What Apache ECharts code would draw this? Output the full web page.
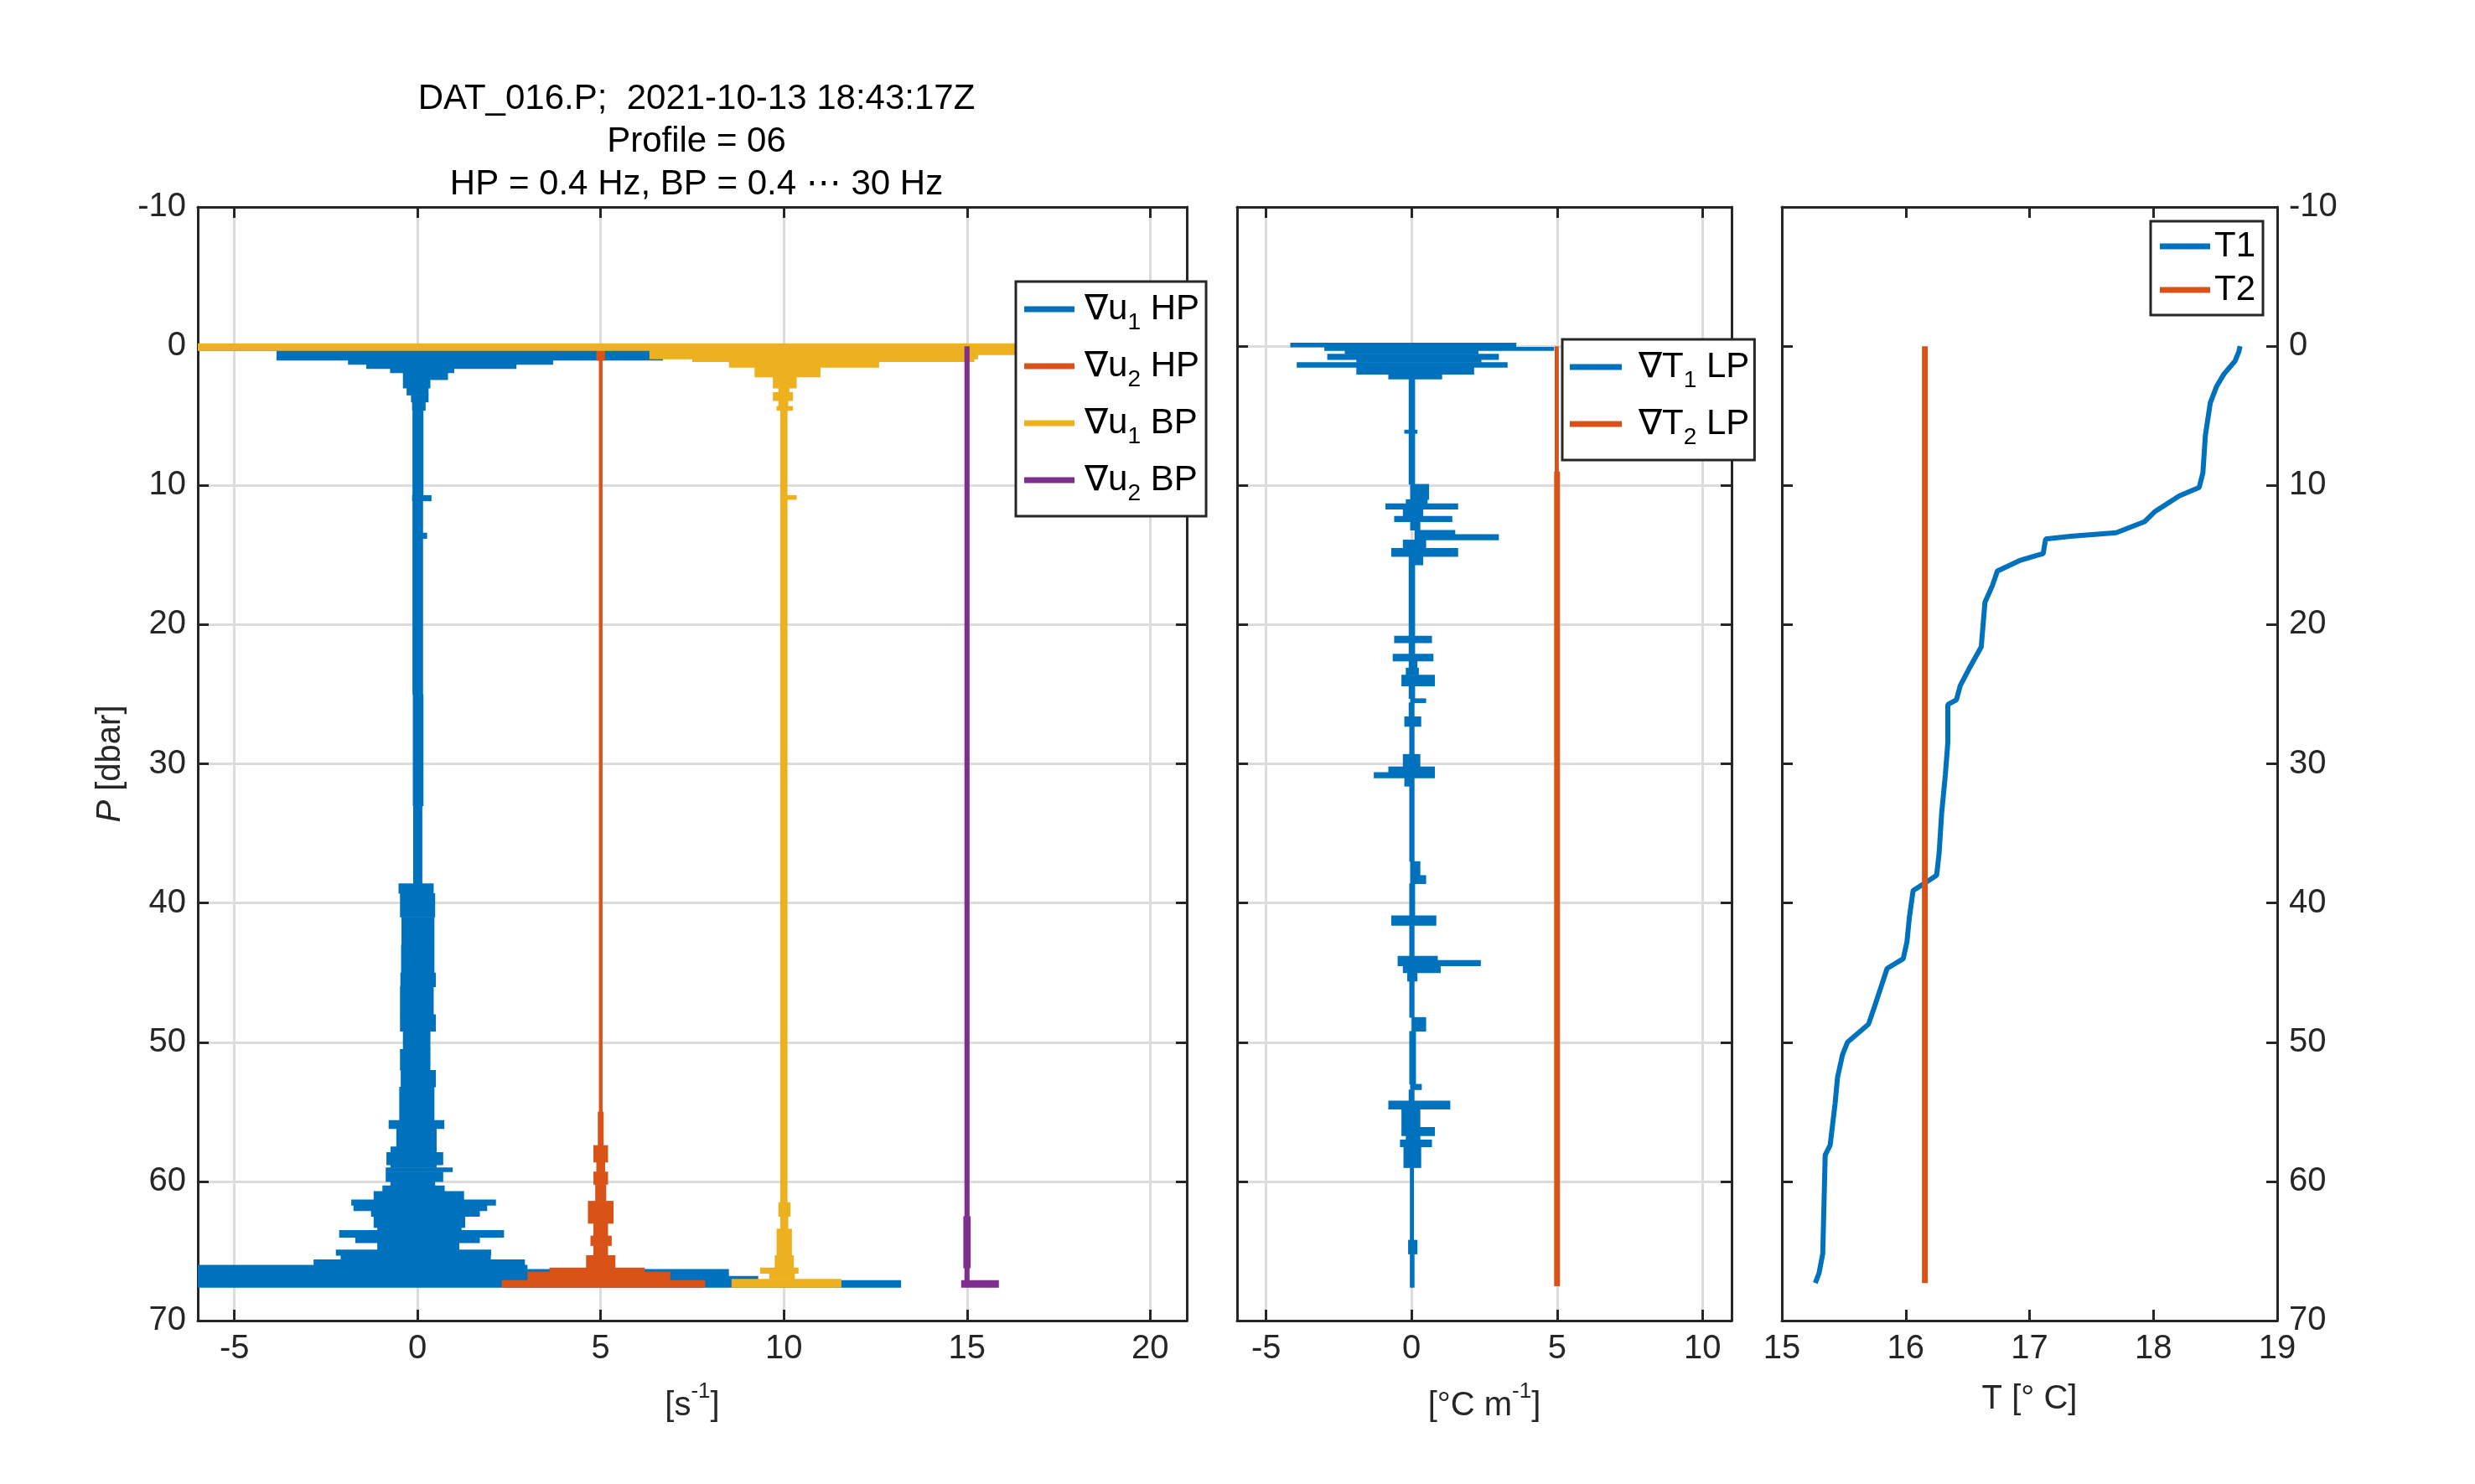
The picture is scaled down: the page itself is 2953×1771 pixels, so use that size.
<!DOCTYPE html>
<html><head><meta charset="utf-8">
<script src="https://cdn.jsdelivr.net/npm/echarts@6/dist/echarts.min.js"></script>
<style>html,body{margin:0;padding:0;background:#fff;}#c{width:2953px;height:1771px;}</style>
</head><body><div id="c"></div>
<script>
// ---------- DATA ----------
// Left panel: shear traces, each as depth bands [P edges], lower/upper extent per band
const u1HP_P  = [0.15,0.3,1.0,1.3,1.6,1.9,2.4,3.0,3.5,4.0,4.6,10.7,11.1,13.4,13.8,25,33,38.6,39.3,41,43,45,46,48,49.2,50.5,52,53.2,55.6,56.2,57.5,57.9,58.8,59.0,59.3,60.0,60.3,60.7,61.3,61.7,62.1,62.5,63.3,63.5,64.0,64.4,64.9,65.3,65.6,66.0,66.3,66.8,67.1,67.6];
const u1HP_lo = [-7,-3.85,-1.9,-1.4,-0.75,-0.4,-0.4,-0.3,-0.18,-0.15,-0.14,-0.15,-0.14,-0.14,-0.14,-0.13,-0.12,-0.52,-0.48,-0.44,-0.45,-0.47,-0.48,-0.48,-0.4,-0.48,-0.46,-0.5,-0.79,-0.58,-0.74,-0.85,-0.74,-0.87,-0.87,-0.74,-0.96,-1.2,-1.81,-1.75,-1.27,-1.2,-1.1,-2.14,-1.7,-1.1,-2.23,-2.1,-2.84,-7,-7,-7,-7];
const u1HP_hi = [6.5,6.7,3.7,2.7,1.0,0.83,0.35,0.3,0.3,0.22,0.16,0.38,0.15,0.26,0.15,0.16,0.13,0.44,0.48,0.46,0.46,0.5,0.44,0.5,0.35,0.35,0.5,0.46,0.73,0.52,0.52,0.7,0.52,0.96,0.7,0.48,0.74,1.27,2.14,1.9,1.7,1.3,1.2,2.36,1.7,1.14,2.01,2.0,2.93,3.0,8.5,9.3,13.2];

const u2HP_P  = [0.3,1.0,55,57.4,58.6,59.3,60.2,61.4,63,63.9,64.6,65.3,66.2,66.5,67.1,67.6];
const u2HP_lo = [4.88,4.95,4.92,4.8,4.88,4.8,4.85,4.65,4.8,4.72,4.8,4.6,3.6,3.0,2.3];
const u2HP_hi = [5.12,5.05,5.08,5.2,5.12,5.2,5.15,5.35,5.2,5.3,5.2,5.4,6.2,6.9,7.85];

const u1BP_P  = [-0.2,0.3,0.6,0.9,1.1,1.5,2.2,3.0,3.3,3.9,4.3,4.6,10.7,11.0,61.5,62.5,63.4,65.3,66.2,66.6,67.0,67.6];
const u1BP_lo = [-7,6.33,6.33,7.5,8.5,9.2,9.7,9.85,9.7,9.85,9.8,9.9,9.9,9.9,9.85,9.9,9.8,9.75,9.35,9.6,8.57];
const u1BP_hi = [17,16.5,15.3,15.2,12.6,11.0,10.35,10.15,10.25,10.12,10.25,10.1,10.35,10.1,10.18,10.12,10.22,10.27,10.4,10.3,11.57];

const u2BP_P  = [0,62.5,66.2,67.1,67.6];
const u2BP_lo = [14.93,14.9,14.93,14.84];
const u2BP_hi = [15.07,15.1,15.07,15.87];

// Middle panel: temperature gradients
const dT1_P  = [-0.25,0.05,0.3,0.55,0.95,1.15,1.5,2.0,2.35,6.0,6.25,9.9,11.0,11.3,11.7,12.2,12.6,13.2,13.5,13.9,14.5,15.1,15.7,20.8,21.3,22.1,22.6,23.1,23.6,24.4,25.3,25.6,26.6,27.3,29.3,30.2,30.6,31.0,31.6,37.0,38.0,38.6,40.9,41.6,43.8,44.1,44.5,45.0,45.6,48.2,49.2,53.0,53.4,54.2,54.8,56.1,56.7,57.0,57.5,59.0,64.2,65.2,67.6];
const dT1_lo = [-4.17,-3.0,-2.3,-2.9,-1.9,-3.95,-1.9,-0.8,-0.1,-0.25,-0.1,-0.05,-0.2,-0.9,-0.3,-0.6,-0.05,0.1,0.1,-0.3,-0.7,-0.1,-0.1,-0.6,-0.1,-0.65,-0.1,-0.2,-0.35,-0.1,-0.05,-0.1,-0.25,-0.08,-0.3,-0.8,-1.3,-0.25,-0.08,-0.05,-0.05,-0.08,-0.7,-0.08,-0.48,-0.48,-0.3,-0.15,-0.08,0.0,-0.08,-0.05,-0.1,-0.8,-0.35,-0.35,-0.2,-0.4,-0.28,-0.06,-0.12,-0.06];
const dT1_hi = [3.6,4.9,2.3,3.0,2.4,3.3,2.15,1.05,0.12,0.2,0.12,0.6,0.55,1.6,0.4,1.4,0.3,1.5,3.0,0.5,1.6,0.4,0.12,0.7,0.12,0.75,0.2,0.25,0.8,0.12,0.5,0.1,0.33,0.1,0.3,0.8,0.8,0.1,0.1,0.3,0.5,0.12,0.85,0.1,0.9,2.38,1.0,0.2,0.1,0.5,0.15,0.35,0.1,1.33,0.3,0.8,0.3,0.7,0.33,0.08,0.2,0.1];

const dT2_P  = [0.0,9,67.5];
const dT2_lo = [4.92,4.9];
const dT2_hi = [5.06,5.1];

// Right panel: temperature profiles
const T1_T = [18.70,18.69,18.66,18.57,18.51,18.46,18.42,18.40,18.37,18.21,18.01,17.93,17.70,17.33,17.13,17.11,16.92,16.74,16.70,16.64,16.61,16.56,16.51,16.44,16.41,16.34,16.34,16.32,16.29,16.27,16.25,16.15,16.06,16.03,16.01,15.98,15.85,15.80,15.75,15.70,15.53,15.49,15.45,15.43,15.39,15.35,15.33,15.30,15.27];
const T1_P = [0,0.4,1.06,2.0,2.9,4.06,6.4,9.1,10.15,10.75,11.9,12.6,13.4,13.66,13.85,14.9,15.4,16.15,17.2,18.4,21.6,22.4,23.2,24.4,25.4,25.75,28.5,30.8,33.6,36.4,38.0,38.6,39.1,41.0,42.8,44.0,44.7,46.05,47.4,48.7,50.0,50.9,52.5,54.4,57.4,58.1,65.2,66.6,67.3];
const T2_T = [16.155,16.155];
const T2_P = [0,67.3];

// Tick labels
const shearTicks = [-5,0,5,10,15,20];
const gradTicks  = [-5,0,5,10];

// ---------- CHART ----------
const FF = "'Liberation Sans','DejaVu Sans',sans-serif";
const INK = '#262626';
const C = {blue:'#0072BD', orange:'#D95319', yellow:'#EDB120', purple:'#7E2F8E'};

function bandItem(params, api){
  const a = api.coord([api.value(0), api.value(2)]);
  const b = api.coord([api.value(1), api.value(3)]);
  return {type:'rect',
    shape:{x:Math.min(a[0],b[0]), y:Math.min(a[1],b[1]), width:Math.max(1.5,Math.abs(b[0]-a[0])), height:Math.abs(b[1]-a[1])+0.6},
    style:{fill:api.visual('color')}};
}
function band(name, P, lo, hi, color, xi, yi){
  return {type:'custom', name, xAxisIndex:xi, yAxisIndex:yi, clip:true, silent:true,
    itemStyle:{color}, encode:{x:[0,1], y:[2,3]},
    data: lo.map((l,i)=>[l, hi[i], P[i], P[i+1]]), renderItem: bandItem};
}

const axLine = {show:true, onZero:false, lineStyle:{color:INK, width:3}};
function tick(vals){ const t = {show:true, inside:true, length:13, lineStyle:{color:INK, width:3}}; if(vals) t.customValues = vals; return t; }
const grid0 = {left:236, top:247, width:1180, height:1329};
const grid1 = {left:1476, top:247, width:590, height:1329};
const grid2 = {left:2126, top:247, width:591, height:1329};
const gridLine = {show:true, lineStyle:{color:'#dcdcdc', width:3}};
const lab = {fontSize:40, fontFamily:FF, color:INK, margin:14};

function xAxes(gi, min, max, ticks, interval, name, nameGap, rich, grid){
  const bottom = {gridIndex:gi, type:'value', position:'bottom', min, max, axisLine:axLine,
    axisTick:tick(ticks), axisLabel:Object.assign({}, lab, ticks?{customValues:ticks}:{}),
    splitLine: grid ? gridLine : {show:false},
    name, nameLocation:'middle', nameGap,
    nameTextStyle:{fontSize:40, fontFamily:FF, color:INK, lineHeight:48, rich}};
  if (interval) bottom.interval = interval;
  const top = {gridIndex:gi, type:'value', position:'top', min, max, axisLine:axLine,
    axisTick:tick(ticks), axisLabel:{show:false}, splitLine:{show:false}};
  if (interval) top.interval = interval;
  return [bottom, top];
}
function yAxes(gi, labelSide, grid, name){
  const mk = (pos) => ({gridIndex:gi, type:'value', position:pos, inverse:true, min:-10, max:70, interval:10,
    axisLine:axLine, axisTick:tick(), axisLabel: pos===labelSide ? lab : {show:false},
    splitLine: (grid && pos==='left') ? gridLine : {show:false}});
  const l = mk('left'), r = mk('right');
  if (name) { l.name = name; l.nameLocation='middle'; l.nameGap = 84;
    l.nameTextStyle = {fontSize:40, fontFamily:FF, color:INK, rich:{i:{fontStyle:'italic', fontSize:40, fontFamily:FF, color:INK}}}; }
  return [l, r];
}

const richSup = {a:{fontSize:40, fontFamily:FF, color:INK, lineHeight:60}, p:{fontSize:26, fontFamily:FF, color:INK, lineHeight:26, verticalAlign:'top'}};
function richLeg(lead){ return {
  f:{fontSize:42, fontFamily:FF, color:'#000', lineHeight:60, padding:[0,0,0,lead]},
  n:{fontSize:42, fontFamily:FF, color:'#000', lineHeight:60},
  s:{fontSize:28, fontFamily:FF, color:'#000', lineHeight:12, verticalAlign:'bottom'}
};}
const LEG = {
  '∇u1 HP':'{f|∇u}{s|1}{n| HP}', '∇u2 HP':'{f|∇u}{s|2}{n| HP}',
  '∇u1 BP':'{f|∇u}{s|1}{n| BP}', '∇u2 BP':'{f|∇u}{s|2}{n| BP}',
  '∇T1 LP':'{f|∇T}{s|1}{n| LP}', '∇T2 LP':'{f|∇T}{s|2}{n| LP}'
};
const legBase = {orient:'vertical', icon:'rect', itemWidth:60, itemHeight:7, selectedMode:false,
  backgroundColor:'#fff', borderColor:INK, borderWidth:3, borderRadius:0};

const option = {
  animation:false,
  backgroundColor:'#fff',
  textStyle:{fontFamily:FF},
  title:{text:'DAT_016.P;  2021-10-13 18:43:17Z\nProfile = 06\nHP = 0.4 Hz, BP = 0.4 ⋯ 30 Hz',
    left:826, top:88, textAlign:'center',
    textStyle:{fontSize:42, fontWeight:'normal', lineHeight:51, color:'#000', fontFamily:FF}},
  grid:[Object.assign({outerBoundsMode:'none'},grid0), Object.assign({outerBoundsMode:'none'},grid1), Object.assign({outerBoundsMode:'none'},grid2)],
  xAxis:[
    ...xAxes(0,-6,21,shearTicks,null,'{a|[s}{p|-1}{a|]}',72,richSup,true),
    ...xAxes(1,-6,11,gradTicks,null,'{a|[°C m}{p|-1}{a|]}',72,richSup,true),
    ...xAxes(2,15,19,null,1,'T [° C]',70,undefined,false)
  ],
  yAxis:[
    ...yAxes(0,'left',true,'{i|P} [dbar]'),
    ...yAxes(1,'none',true),
    ...yAxes(2,'right',false)
  ],
  legend:[
    Object.assign({}, legBase, {left:1212, top:336, data:['∇u1 HP','∇u2 HP','∇u1 BP','∇u2 BP'],
      itemGap:17, padding:[12,8,13,10], formatter:n=>LEG[n], textStyle:{fontSize:42, fontFamily:FF, color:'#000', rich:richLeg(7)}}),
    Object.assign({}, legBase, {left:1864, top:405, data:['∇T1 LP','∇T2 LP'], itemWidth:62,
      itemGap:17, padding:[12,6,13,9], formatter:n=>LEG[n], textStyle:{fontSize:42, fontFamily:FF, color:'#000', rich:richLeg(15)}}),
    Object.assign({}, legBase, {left:2566, top:264, data:['T1','T2'],
      itemGap:8, padding:[8,9,8,11], textStyle:{fontSize:42, fontFamily:FF, color:'#000', lineHeight:44}})
  ],
  series:[
    band('∇u1 HP', u1HP_P, u1HP_lo, u1HP_hi, C.blue, 0, 0),
    band('∇u2 HP', u2HP_P, u2HP_lo, u2HP_hi, C.orange, 0, 0),
    band('∇u1 BP', u1BP_P, u1BP_lo, u1BP_hi, C.yellow, 0, 0),
    band('∇u2 BP', u2BP_P, u2BP_lo, u2BP_hi, C.purple, 0, 0),
    band('∇T1 LP', dT1_P, dT1_lo, dT1_hi, C.blue, 2, 2),
    band('∇T2 LP', dT2_P, dT2_lo, dT2_hi, C.orange, 2, 2),
    {type:'line', name:'T1', xAxisIndex:4, yAxisIndex:4, showSymbol:false, silent:true,
      itemStyle:{color:C.blue}, lineStyle:{color:C.blue, width:6},
      data:T1_T.map((t,i)=>[t, T1_P[i]])},
    {type:'line', name:'T2', xAxisIndex:4, yAxisIndex:4, showSymbol:false, silent:true,
      itemStyle:{color:C.orange}, lineStyle:{color:C.orange, width:7},
      data:T2_T.map((t,i)=>[t, T2_P[i]])}
  ]
};
const chart = echarts.init(document.getElementById('c'), null, {renderer:'canvas'});
chart.setOption(option);
</script></body></html>
